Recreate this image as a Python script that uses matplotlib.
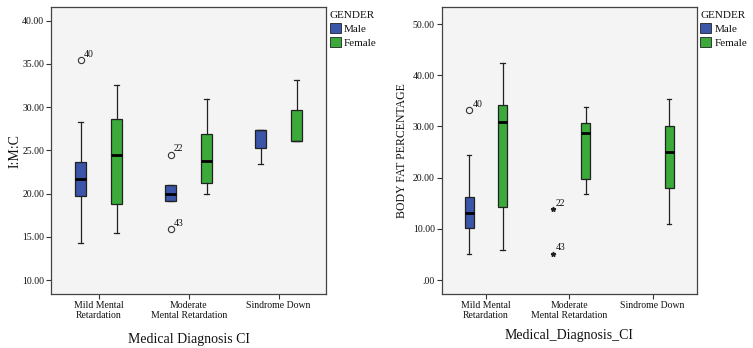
import matplotlib
matplotlib.use("Agg")
import matplotlib.pyplot as plt
from matplotlib.patches import Patch

plt.rcParams['font.family'] = ['Liberation Serif', 'DejaVu Serif']

categories = ["Mild Mental\nRetardation", "Moderate\nMental Retardation", "Sindrome Down"]

# Left chart: I:M:C
imc_male_q1 = [19.75, 19.2, 25.3]
imc_male_med = [21.7, 20.0, 27.35]
imc_male_q3 = [23.7, 21.0, 27.35]
imc_male_lo = [14.3, 19.2, 23.4]
imc_male_hi = [28.3, 21.0, 27.35]
imc_female_q1 = [18.75, 21.2, 26.1]
imc_female_med = [24.5, 23.8, 26.1]
imc_female_q3 = [28.6, 26.9, 29.65]
imc_female_lo = [15.4, 19.9, 26.1]
imc_female_hi = [32.6, 30.9, 33.1]
imc_out_cat = [0, 1, 1]
imc_out_val = [35.4, 24.5, 15.9]
imc_out_lab = ["40", "22", "43"]

# Right chart: body fat percentage
bfp_male_cat = [0]
bfp_male_q1 = [10.2]
bfp_male_med = [13.0]
bfp_male_q3 = [16.3]
bfp_male_lo = [5.1]
bfp_male_hi = [24.4]
bfp_female_q1 = [14.2, 19.66, 18.0]
bfp_female_med = [30.9, 28.65, 25.0]
bfp_female_q3 = [34.25, 30.7, 30.1]
bfp_female_lo = [5.9, 16.8, 10.9]
bfp_female_hi = [42.3, 33.85, 35.4]
bfp_out_cat = [0, 1, 1]
bfp_out_val = [33.2, 13.8, 5.1]
bfp_out_lab = ["40", "22", "43"]
bfp_out_mark = ["o", "*", "*"]

BLUE = "#3B55A8"
GREEN = "#3BAA3A"
EDGE = "#222222"
BG = "#F4F4F4"
TXT = "#111111"


def stats(q1, med, q3, lo, hi):
    return [dict(q1=a, med=b, q3=c, whislo=d, whishi=e, fliers=[])
            for a, b, c, d, e in zip(q1, med, q3, lo, hi)]


def draw(ax, st, positions, color, width):
    r = ax.bxp(st, positions=positions, widths=width, patch_artist=True,
               showfliers=False, manage_ticks=False,
               boxprops=dict(facecolor=color, edgecolor=EDGE, linewidth=0.9),
               whiskerprops=dict(color=EDGE, linewidth=0.9),
               capprops=dict(color=EDGE, linewidth=0.9),
               medianprops=dict(color="black", linewidth=2.0))
    for s, m in zip(st, r['medians']):
        if s['med'] in (s['q1'], s['q3']):
            m.set_linewidth(0.9)
            m.set_color(EDGE)
    return r


def style(ax, ylim, yticks, ylabels, ylabel, xlabel, ylabsize, ylpad, xlpad):
    ax.set_facecolor(BG)
    ax.set_xlim(-0.53, 2.53)
    ax.set_ylim(*ylim)
    ax.set_yticks(yticks)
    ax.set_yticklabels(ylabels)
    ax.set_xticks([0, 1, 2])
    ax.set_xticklabels(categories)
    ax.tick_params(axis='both', direction='out', length=3.5, width=0.8,
                   colors="#333333", labelsize=7, pad=1.5)
    for t in ax.get_xticklabels() + ax.get_yticklabels():
        t.set_color(TXT)
    for sp in ax.spines.values():
        sp.set_color("#444444")
        sp.set_linewidth(0.9)
    ax.set_ylabel(ylabel, fontsize=ylabsize, color=TXT, labelpad=ylpad)
    ax.set_xlabel(xlabel, fontsize=10, color=TXT, labelpad=xlpad)
    leg = ax.legend(handles=[Patch(facecolor=BLUE, edgecolor=EDGE, linewidth=0.6, label="Male"),
                             Patch(facecolor=GREEN, edgecolor=EDGE, linewidth=0.6, label="Female")],
                    title="GENDER", loc="upper left", bbox_to_anchor=(1.0, 1.0),
                    frameon=False, fontsize=8, title_fontsize=8,
                    handlelength=1.0, handleheight=1.0, handletextpad=0.3,
                    labelspacing=0.3, borderaxespad=0.15, borderpad=0.15)
    leg._legend_box.align = "left"
    for t in leg.get_texts():
        t.set_color(TXT)
    leg.get_title().set_color(TXT)


fig = plt.figure(figsize=(7.53, 3.48), dpi=100)
ax1 = fig.add_axes([0.0677, 0.155, 0.3656, 0.824])
ax2 = fig.add_axes([0.5866, 0.155, 0.3386, 0.824])

off = 0.2
# Left
draw(ax1, stats(imc_male_q1, imc_male_med, imc_male_q3, imc_male_lo, imc_male_hi),
     [i - off for i in range(3)], BLUE, 0.12)
draw(ax1, stats(imc_female_q1, imc_female_med, imc_female_q3, imc_female_lo, imc_female_hi),
     [i + off for i in range(3)], GREEN, 0.12)
for c, v, lab in zip(imc_out_cat, imc_out_val, imc_out_lab):
    ax1.plot(c - off, v, marker='o', markersize=4.5, markerfacecolor='none',
             markeredgecolor="#333333", markeredgewidth=0.8, linestyle='none')
    ax1.annotate(lab, (c - off, v), xytext=(2.5, 2.5), textcoords='offset points',
                 fontsize=7, color=TXT)
style(ax1, (8.38, 41.55), [10, 15, 20, 25, 30, 35, 40],
      ["10.00", "15.00", "20.00", "25.00", "30.00", "35.00", "40.00"],
      "I:M:C", "Medical Diagnosis CI", 10, 0.5, 9)

# Right
draw(ax2, stats(bfp_male_q1, bfp_male_med, bfp_male_q3, bfp_male_lo, bfp_male_hi),
     [c - off for c in bfp_male_cat], BLUE, 0.105)
draw(ax2, stats(bfp_female_q1, bfp_female_med, bfp_female_q3, bfp_female_lo, bfp_female_hi),
     [i + off for i in range(3)], GREEN, 0.105)
for c, v, lab, mk in zip(bfp_out_cat, bfp_out_val, bfp_out_lab, bfp_out_mark):
    if mk == 'o':
        ax2.plot(c - off, v, marker='o', markersize=4.5, markerfacecolor='none',
                 markeredgecolor="#333333", markeredgewidth=0.8, linestyle='none')
    else:
        ax2.plot(c - off, v, marker='*', markersize=3.5, color="#222222", linestyle='none')
    ax2.annotate(lab, (c - off, v), xytext=(2.5, 2.5), textcoords='offset points',
                 fontsize=7, color=TXT)
style(ax2, (-2.73, 53.26), [0, 10, 20, 30, 40, 50],
      [".00", "10.00", "20.00", "30.00", "40.00", "50.00"],
      "BODY FAT PERCENTAGE", "Medical_Diagnosis_CI", 8.5, 3, 6)

fig.savefig("out.png", dpi=100, facecolor="white")
